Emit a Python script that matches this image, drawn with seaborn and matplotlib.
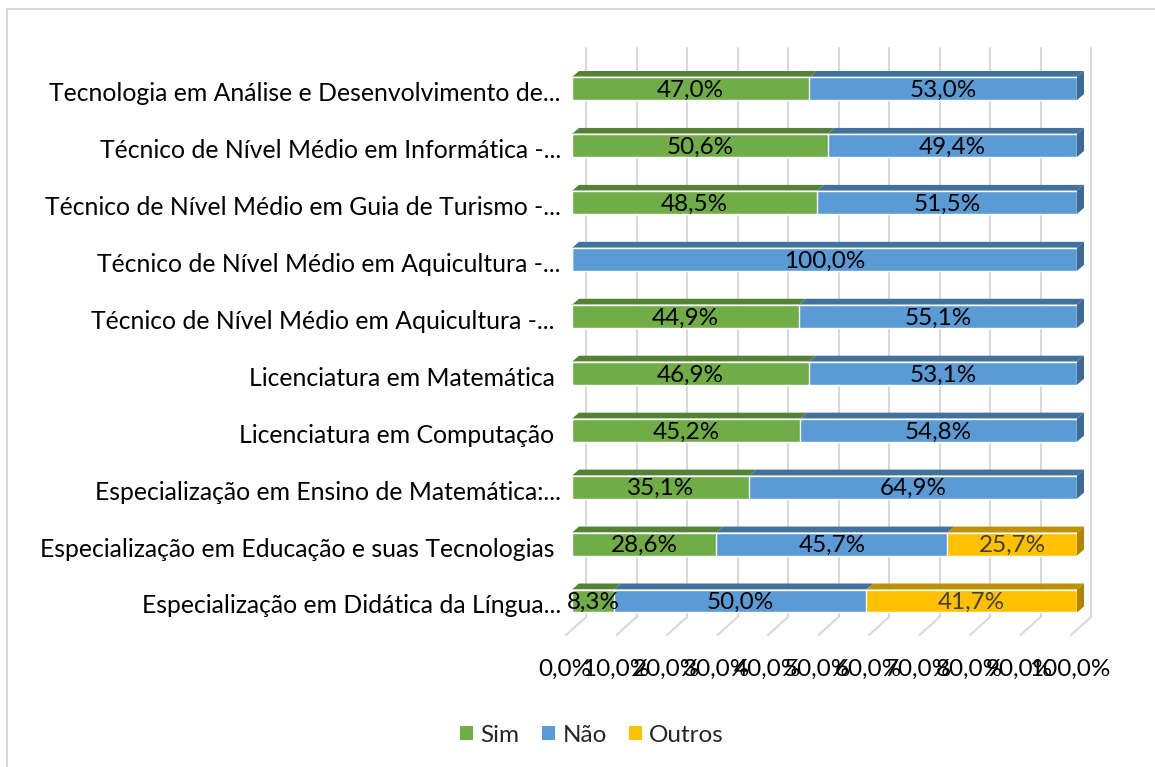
import matplotlib
matplotlib.use("Agg")
import matplotlib.pyplot as plt
import matplotlib.transforms as mtransforms
from matplotlib.patches import Polygon, Patch
from matplotlib.lines import Line2D
import numpy as np
import pandas as pd
import seaborn as sns

# DATA
cursos = [
    "Tecnologia em Análise e Desenvolvimento de...",
    "Técnico de Nível Médio em Informática -...",
    "Técnico de Nível Médio em Guia de Turismo -...",
    "Técnico de Nível Médio em Aquicultura -...",
    "Técnico de Nível Médio em Aquicultura -... ",
    "Licenciatura em Matemática ",
    "Licenciatura em Computação ",
    "Especialização em Ensino de Matemática:...",
    "Especialização em Educação e suas Tecnologias ",
    "Especialização em Didática da Língua...",
]
sim = [47.0, 50.6, 48.5, 0.0, 44.9, 46.9, 45.2, 35.1, 28.6, 8.3]
nao = [53.0, 49.4, 51.5, 100.0, 55.1, 53.1, 54.8, 64.9, 45.7, 50.0]
outros = [0.0, 0.0, 0.0, 0.0, 0.0, 0.0, 0.0, 0.0, 25.7, 41.7]
series = ["Sim", "Não", "Outros"]
ticks = list(range(0, 101, 10))

df = pd.DataFrame({"curso": cursos, "Sim": sim, "Não": nao, "Outros": outros})
df["c1"] = df["Sim"]
df["c2"] = df["Sim"] + df["Não"]
df["c3"] = df["Sim"] + df["Não"] + df["Outros"]

front = {"Sim": "#70AD47", "Não": "#5B9BD5", "Outros": "#FFC000"}
top = {"Sim": "#548235", "Não": "#41719C", "Outros": "#BF9000"}
side = {"Sim": "#507E32", "Não": "#3C6A94", "Outros": "#B08600"}
txtcol = {"Sim": "black", "Não": "black", "Outros": "#404040"}

sns.set_theme(style="white")
plt.rcParams["font.family"] = ["Lato", "DejaVu Sans"]
FS = 17.5

W, H = 1155, 767
fig = plt.figure(figsize=(W / 100, H / 100), dpi=100)

# axes: x 0..100 -> px 572..1077, rows centred at 88.5 .. 601
x0px, x1px = 572, 1077
r0, r9 = 88.5, 601
step = (r9 - r0) / 9
ax = fig.add_axes([x0px / W, 1 - (r9 + step / 2) / H, (x1px - x0px) / W, (r9 - r0 + step) / H])

bh = 23 / step
# cumulative trick: draw totals first, then smaller sums on top
for col, name in [("c3", "Outros"), ("c2", "Não"), ("c1", "Sim")]:
    sns.barplot(data=df, x=col, y="curso", color=front[name], saturation=1,
                width=bh, orient="h", ax=ax, zorder=3)

ax.set_xlim(0, 100)
ax.set_ylim(9.5, -0.5)
ax.set_xlabel("")
ax.set_ylabel("")
for s in ax.spines.values():
    s.set_visible(False)

pxx = 100 / (x1px - x0px)   # data units per px in x
pxy = 1 / step              # data units per px in y

def ypx(p):
    return (p - r0) * pxy

# back wall grid + floor lines
gc = "#D9D9D9"
for v in ticks:
    bx = v + 14 * pxx
    fx = v - 6 * pxx
    ax.add_line(Line2D([bx, bx], [ypx(48), ypx(617)], color=gc, lw=1.5, zorder=0, clip_on=False))
    ax.add_line(Line2D([bx, fx], [ypx(617), ypx(635)], color=gc, lw=1.5, zorder=0, clip_on=False))

# 3D top and side faces
d = 7 * pxx
dy = 6 * pxy
for i in range(len(cursos)):
    yt = i - bh / 2
    yb = i + bh / 2
    left = 0.0
    last = None
    for name in series:
        v = df.loc[i, name]
        if v <= 0:
            continue
        right = left + v
        ax.add_patch(Polygon([(left, yt), (right, yt), (right + d, yt - dy), (left + d, yt - dy)],
                             closed=True, facecolor=top[name], edgecolor="none", zorder=2, clip_on=False))
        ax.text((left + right) / 2, i + 0.03, f"{v:.1f}".replace(".", ",") + "%", ha="center", va="center",
                fontsize=FS, color=txtcol[name], zorder=5)
        last = name
        left = right
    ax.add_patch(Polygon([(left, yt), (left + d, yt - dy), (left + d, yb - dy), (left, yb)],
                         closed=True, facecolor=side[last], edgecolor="none", zorder=2, clip_on=False))

ax.set_xticks(ticks)
ax.set_xticklabels([f"{t:.1f}".replace(".", ",") + "%" for t in ticks], fontsize=FS, color="#000000")
ax.tick_params(axis="x", length=0, pad=21)
off = mtransforms.ScaledTranslation(-7 / 100, 0, fig.dpi_scale_trans)
for lab in ax.get_xticklabels():
    lab.set_transform(lab.get_transform() + off)
ax.tick_params(axis="y", length=0, pad=8, labelsize=17.8, labelcolor="#000000")
yoff = mtransforms.ScaledTranslation(0, -3 / 100, fig.dpi_scale_trans)
for lab in ax.get_yticklabels():
    lab.set_transform(lab.get_transform() + yoff)

# legend
handles = [Patch(facecolor=front[n], edgecolor="none", label=n) for n in series]
fig.legend(handles=handles, loc="center", bbox_to_anchor=(592 / W, 1 - 735 / H), ncol=3,
           frameon=False, fontsize=FS, handlelength=0.55, handleheight=0.55,
           handletextpad=0.3, columnspacing=0.9)

# chart frame (left and top edges visible)
fig.add_artist(Line2D([7 / W, 7 / W], [0, 1 - 9 / H], color=gc, lw=1.5, transform=fig.transFigure))
fig.add_artist(Line2D([7 / W, 1], [1 - 9 / H, 1 - 9 / H], color=gc, lw=1.5, transform=fig.transFigure))

fig.savefig("out.png", dpi=100)
